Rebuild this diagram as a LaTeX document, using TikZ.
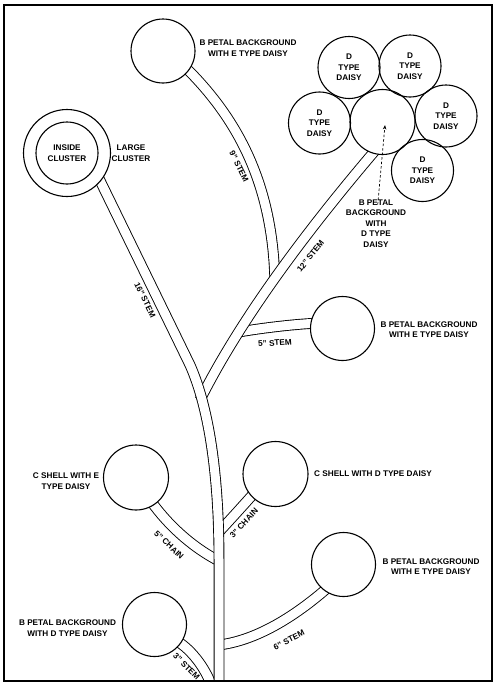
\documentclass[tikz,border=0pt]{standalone}
\usepackage{fontspec}
\setmainfont{Liberation Sans}
\usetikzlibrary{arrows.meta}
\pgfdeclarelayer{stems}
\pgfsetlayers{stems,main}
\begin{document}
\begin{tikzpicture}[x=1pt,y=-1pt,
  stemline/.style={draw=black, line width=0.9pt, double=white, double distance=9pt},
  circ/.style={circle, draw=black, line width=1.1pt, fill=white, inner sep=0pt},
  lbl/.style={font=\bfseries\fontsize{8.2}{10.5}\selectfont, align=center, inner sep=0pt},
  slbl/.style={font=\bfseries\fontsize{8.2}{10.5}\selectfont, inner sep=0pt},
  petal/.style={circle, draw=black, line width=1.1pt, inner sep=0pt, minimum size=62pt, lbl},
  dasharrow/.style={draw=black, line width=0.7pt, dash pattern=on 2.5pt off 2pt, -{Stealth[length=4.5pt,width=3.5pt]}},
  frameline/.style={draw=black, line width=1.3pt}
]
\useasboundingbox (0,0) rectangle (500,686);

% ---- coordinates ----
\coordinate (k12) at (379,146);
\coordinate (j12) at (200,400);
\coordinate (s16) at (90,160);
\coordinate (j3) at (217,534);
\coordinate (j5c) at (219,561);
\coordinate (j6) at (219,645);
\coordinate (j3s) at (213,690);
\coordinate (mbot) at (219,690);
\coordinate (dctip) at (385,125);

% ---- circles ----
\node[circ, minimum size=64pt] (topc) at (163,51) {};
\node[circ, minimum size=87pt] (lc) at (67,153) {};
\node[circ, minimum size=62pt, lbl] (lci) at (67,153) {INSIDE\\CLUSTER};
\node[circ, minimum size=65pt] (dc) at (382.5,122) {};
\node[petal] (d1) at (349,67.5) {D\\TYPE\\DAISY};
\node[petal] (d2) at (410,66) {D\\TYPE\\DAISY};
\node[petal] (d3) at (319.5,123) {D\\TYPE\\DAISY};
\node[petal] (d4) at (446,116) {D\\TYPE\\DAISY};
\node[petal] (d5) at (422.5,170.5) {D\\TYPE\\DAISY};
\node[circ, minimum size=64pt] (e5) at (342.5,328.5) {};
\node[circ, minimum size=65pt] (c5) at (136,477.5) {};
\node[circ, minimum size=65pt] (c3) at (275.5,474) {};
\node[circ, minimum size=64pt] (e6) at (343.5,564.5) {};
\node[circ, minimum size=64pt] (bd) at (154.5,624.5) {};

% ---- stems (drawn beneath circles) ----
\begin{pgfonlayer}{stems}
\begin{scope}
\clip (4,5) rectangle (492,681);
\path (k12) .. controls (320,215) and (245,310) .. (j12)
  coordinate[pos=0.55] (j9) coordinate[pos=0.75] (j5);
\draw[stemline] (topc.center) -- (182,64) .. controls (235,115) and (272,180) .. (j9);
\draw[stemline] (j5) .. controls (262,328) and (295,324) .. (320,323) -- (e5.center);
\draw[stemline] (dc.center) -- (k12) .. controls (320,215) and (245,310) .. (j12);
\draw[stemline] (c3.center) -- (256,491) .. controls (240,509) and (229,521) .. (j3);
\draw[stemline] (c5.center) -- (148,497) .. controls (165,522) and (190,546) .. (j5c);
\draw[stemline] (e6.center) -- (328.5,587) .. controls (300,612) and (260,640) .. (j6);
\draw[stemline] (bd.center) -- (180,643) .. controls (193,652) and (207,670) .. (j3s);
\draw[stemline] (lc.center) -- (s16) -- (190,365) .. controls (210,410) and (219,480) .. (219,560) -- (mbot);
\end{scope}
\end{pgfonlayer}

% ---- labels ----
\node[lbl] (t1) at (248,48) {B PETAL BACKGROUND\\WITH E TYPE DAISY};
\node[lbl] (t2) at (131,153) {LARGE\\CLUSTER};
\node[lbl] (t3) at (376,223.5) {B PETAL\\BACKGROUND\\WITH\\D TYPE\\DAISY};
\node[lbl] (t4) at (429,329.5) {B PETAL BACKGROUND\\WITH E TYPE DAISY};
\node[lbl] (t5) at (66,481) {C SHELL WITH E\\TYPE DAISY};
\node[slbl] (t6) at (373,474) {C SHELL WITH D TYPE DAISY};
\node[lbl] (t7) at (431,566.5) {B PETAL BACKGROUND\\WITH E TYPE DAISY};
\node[lbl] (t8) at (67.5,628) {B PETAL BACKGROUND\\WITH D TYPE DAISY};

\node[slbl, rotate=-64] (l16) at (145,300) {16" STEM};
\node[slbl, rotate=-64] (l9) at (239,166.5) {9" STEM};
\node[slbl, rotate=52] (l12) at (310.5,256) {12" STEM};
\node[slbl, rotate=4] (l5) at (275,343) {5" STEM};
\node[slbl, rotate=47] (l3c) at (244,523) {3" CHAIN};
\node[slbl, rotate=-43] (l5c) at (169,545) {5" CHAIN};
\node[slbl, rotate=27] (l6) at (289,640) {6" STEM};
\node[slbl, rotate=-45] (l3s) at (186.5,666.5) {3" STEM};

% ---- dotted pointer ----
\draw[dasharrow, shorten <=-5pt] (t3) -- (dctip);

% ---- frame ----
\draw[frameline] (4,5) rectangle (492,681);
\end{tikzpicture}
\end{document}
